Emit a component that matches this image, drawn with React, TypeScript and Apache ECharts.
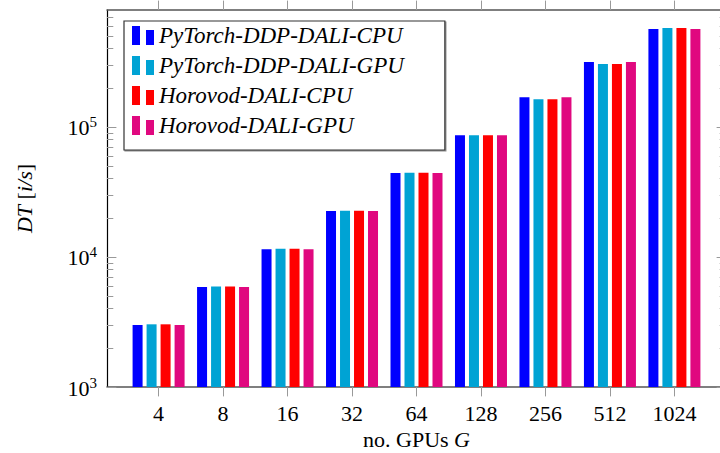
import React, { useEffect, useRef } from "react";
import * as echarts from "echarts";

// ---- data ----
const categories = ["4", "8", "16", "32", "64", "128", "256", "512", "1024"];
const seriesNames = [
  "PyTorch-DDP-DALI-CPU",
  "PyTorch-DDP-DALI-GPU",
  "Horovod-DALI-CPU",
  "Horovod-DALI-GPU",
];
const ptCpu = [3000, 5870, 11450, 22600, 44200, 86300, 169000, 316000, 567000];
const ptGpu = [3035, 5920, 11550, 22700, 44500, 86300, 163400, 305000, 577000];
const hvCpu = [3035, 5920, 11550, 22700, 44500, 86300, 163400, 305000, 577000];
const hvGpu = [3000, 5870, 11450, 22600, 44200, 86300, 169000, 316000, 567000];
const colors = ["#0000ff", "#00a3d4", "#ff0000", "#e0087f"];

const yMin = 1000;
const yMax = 794000;
const majorExponents = [3, 4, 5];
const minorMultipliers = [2, 3, 4, 5, 6, 7, 8, 9];
const decades = [1e3, 1e4, 1e5];

const FONT = "Liberation Serif";

export default function App() {
  const ref = useRef<HTMLDivElement>(null);

  useEffect(() => {
    if (!ref.current) return;
    const chart = echarts.init(ref.current, undefined, { renderer: "svg" });

    const idx = categories.map((_, i) => i);
    const logMin = Math.log10(yMin);
    const logMax = Math.log10(yMax);
    const minorLog: number[] = [];
    decades.forEach((d) =>
      minorMultipliers.forEach((m) => {
        const v = d * m;
        if (v < yMax) minorLog.push(Math.log10(v));
      })
    );

    const xCommon: any = {
      type: "value",
      min: -0.8,
      max: 8.8,
      splitLine: { show: false },
      axisLine: { show: true, onZero: false, lineStyle: { color: "#555", width: 1.5 } },
      axisTick: {
        show: true,
        inside: false,
        length: 9.4,
        customValues: idx,
        lineStyle: { color: "#999", width: 1 },
      },
    };

    const yLogCommon: any = {
      type: "value",
      min: logMin,
      max: logMax,
      splitLine: { show: false },
    };

    const allSeries = [ptCpu, ptGpu, hvCpu, hvGpu];

    chart.setOption({
      animation: false,
      backgroundColor: "#fff",
      grid: {
        left: 107,
        top: 10,
        width: 619,
        height: 377,
        containLabel: false,
        outerBoundsMode: "none",
      },
      legend: {
        orient: "vertical",
        left: 124,
        top: 21,
        itemWidth: 22,
        itemHeight: 19,
        itemGap: 7,
        padding: [3, 41, 13, 8],
        borderColor: "#333",
        borderWidth: 1.2,
        backgroundColor: "#fff",
        shadowColor: "rgba(0,0,0,0.45)",
        shadowOffsetX: 1,
        shadowOffsetY: 1,
        shadowBlur: 0,
        icon: "path://M0,0h8v19h-8zM14,4h8v15h-8z",
        textStyle: {
          fontFamily: FONT,
          fontStyle: "italic",
          fontSize: 23,
          color: "#000",
        },
        data: seriesNames,
      },
      xAxis: [
        {
          ...xCommon,
          position: "bottom",
          axisLabel: {
            customValues: idx,
            formatter: (v: number) => categories[Math.round(v)] ?? "",
            fontFamily: FONT,
            fontSize: 22,
            color: "#000",
            margin: 15,
          },
          name: "no. GPUs {i|G}",
          nameLocation: "middle",
          nameGap: 39,
          nameTextStyle: {
            fontFamily: FONT,
            fontSize: 22,
            color: "#000",
            rich: { i: { fontFamily: FONT, fontSize: 22, fontStyle: "italic", color: "#000" } },
          },
        },
        {
          ...xCommon,
          position: "top",
          axisLabel: { show: false },
        },
      ],
      yAxis: [
        {
          type: "log",
          logBase: 10,
          min: yMin,
          max: yMax,
          show: false,
          position: "left",
          axisLine: { onZero: false },
          splitLine: { show: false },
        },
        {
          ...yLogCommon,
          position: "left",
          axisLine: { show: true, onZero: false, lineStyle: { color: "#000", width: 1.2 } },
          axisTick: {
            show: true,
            inside: true,
            length: 9.4,
            customValues: majorExponents,
            lineStyle: { color: "#999", width: 1 },
          },
          axisLabel: {
            customValues: majorExponents,
            formatter: (v: number) => `{b|10}{s|${Math.round(v)}}`,
            margin: 10,
            rich: {
              b: { fontFamily: FONT, fontSize: 22, color: "#000", verticalAlign: "bottom", lineHeight: 24 },
              s: { fontFamily: FONT, fontSize: 15, color: "#000", verticalAlign: "top", lineHeight: 15 },
            },
          },
          name: "{i|DT} [{i|i/s}]",
          nameLocation: "middle",
          nameRotate: 90,
          nameGap: 72,
          nameTextStyle: {
            fontFamily: FONT,
            fontSize: 22,
            color: "#000",
            rich: { i: { fontFamily: FONT, fontSize: 22, fontStyle: "italic", color: "#000" } },
          },
        },
        {
          ...yLogCommon,
          position: "left",
          axisLine: { show: false, onZero: false },
          axisTick: {
            show: true,
            inside: true,
            length: 6.3,
            customValues: minorLog,
            lineStyle: { color: "#999", width: 1 },
          },
          axisLabel: { show: false },
        },
        {
          ...yLogCommon,
          position: "right",
          axisLine: { show: true, onZero: false, lineStyle: { color: "#000", width: 1.2 } },
          axisTick: {
            show: true,
            inside: true,
            length: 9.4,
            customValues: majorExponents,
            lineStyle: { color: "#999", width: 1 },
          },
          axisLabel: { show: false },
        },
        {
          ...yLogCommon,
          position: "right",
          axisLine: { show: false, onZero: false },
          axisTick: {
            show: true,
            inside: true,
            length: 6.3,
            customValues: minorLog,
            lineStyle: { color: "#999", width: 1 },
          },
          axisLabel: { show: false },
        },
      ],
      series: allSeries.map((arr, k) => ({
        type: "bar",
        name: seriesNames[k],
        xAxisIndex: 0,
        yAxisIndex: 0,
        data: arr.map((v, i) => [i, v]),
        barWidth: 10,
        barGap: "40%",
        itemStyle: { color: colors[k] },
      })),
    });

    return () => chart.dispose();
  }, []);

  return (
    <div
      ref={ref}
      style={{ position: "fixed", left: 0, top: 0, width: 720, height: 453 }}
    />
  );
}
